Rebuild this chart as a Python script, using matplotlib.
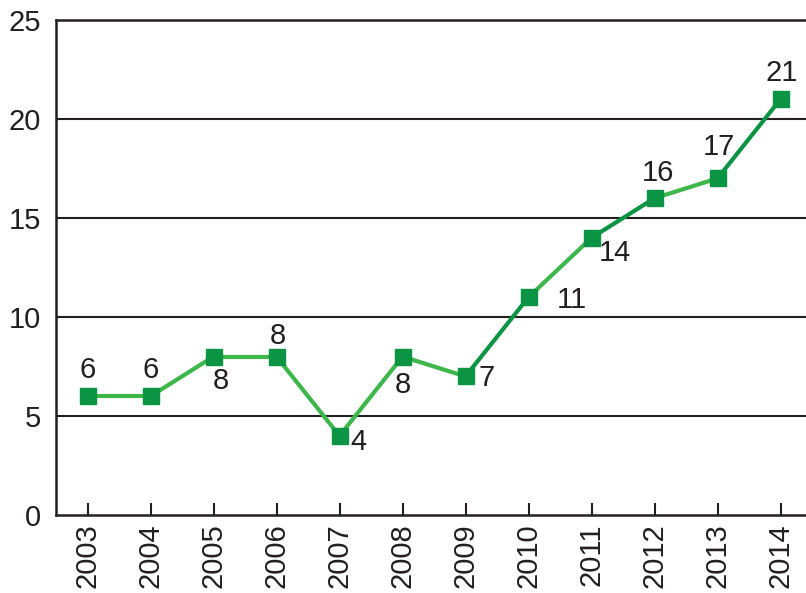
import matplotlib
matplotlib.use("Agg")
import matplotlib.pyplot as plt

years = ["2003", "2004", "2005", "2006", "2007", "2008",
         "2009", "2010", "2011", "2012", "2013", "2014"]
values = [6, 6, 8, 8, 4, 8, 7, 11, 14, 16, 17, 21]
# colour of the segment that ends at each point (first entry unused)
seg_dark = [False, False, False, False, False, False,
            False, True, False, True, False, True]
# label offsets in pixels (dx, dy)
label_off = [(0, 26), (0, 26), (7, -24), (1, 21), (19, -6), (0, -28),
             (21, -2), (43, -3), (23, -15), (3, 25), (1, 31), (1, 26)]

LIGHT = "#3db64a"
DARK = "#0b9444"
TEXT = "#231f20"
FS = 21

plt.rcParams["font.family"] = ["Liberation Sans", "DejaVu Sans"]
fig = plt.figure(figsize=(8.06, 5.93), dpi=100)
ax = fig.add_axes([56 / 806, 78 / 593, 756 / 806, 495 / 593])

x = list(range(len(years)))
for i in range(1, len(x)):
    ax.plot(x[i - 1:i + 1], values[i - 1:i + 1], color=DARK if seg_dark[i] else LIGHT,
            lw=3, solid_capstyle="round", zorder=3)
ax.plot(x, values, ls="none", marker="s", ms=11.5, color=DARK, zorder=4)

for xi, v, (dx, dy) in zip(x, values, label_off):
    ax.annotate(str(v), (xi, v), xytext=(dx * 0.72, dy * 0.72), textcoords="offset points",
                ha="center", va="center", fontsize=FS, color=TEXT, zorder=5)

ax.set_xlim(-0.5, 11.5)
ax.set_ylim(0, 25)
ax.set_yticks([0, 5, 10, 15, 20, 25])
ax.set_xticks(x)
ax.set_xticklabels(years, rotation=90)
for yv in [5, 10, 15, 20]:
    ax.axhline(yv, color="#231f20", lw=1.5, zorder=1)

ax.tick_params(axis="x", direction="in", length=9, width=1.5, color=TEXT,
               labelsize=FS, labelcolor=TEXT, pad=6)
ax.tick_params(axis="y", length=0, labelsize=FS, labelcolor=TEXT, pad=11)
for side in ["left", "top", "bottom"]:
    ax.spines[side].set_linewidth(1.8)
    ax.spines[side].set_color(TEXT)
ax.spines["right"].set_visible(False)

fig.savefig("out.png", dpi=100)
